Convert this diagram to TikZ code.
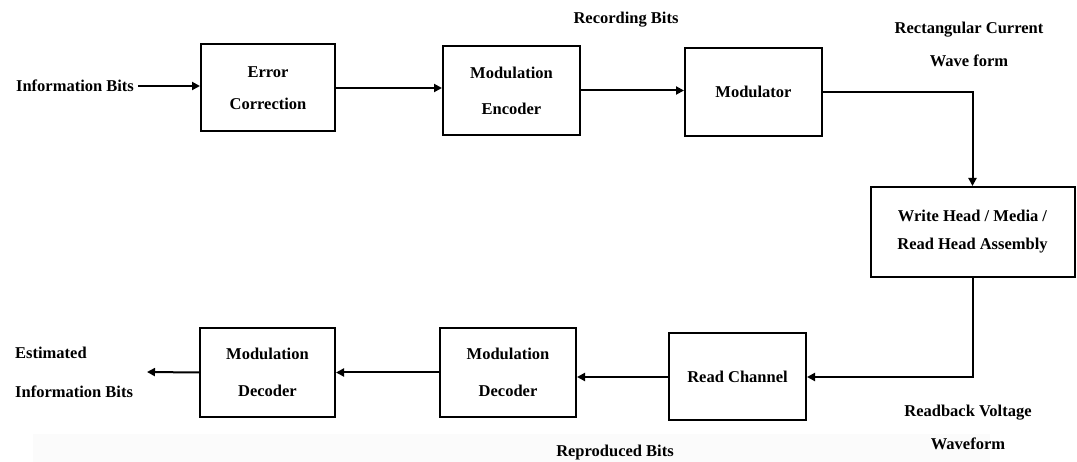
\documentclass[tikz,border=0pt]{standalone}
\usepackage{fontspec}
\setmainfont{Liberation Serif}
\usetikzlibrary{arrows.meta}
\begin{document}
\begin{tikzpicture}[x=1pt,y=-1pt,
  blk/.style={draw,line width=2pt,minimum width=#1,inner sep=0pt,align=center,
     font=\fontsize{16.5}{32}\selectfont\bfseries},
  lbl/.style={inner sep=2pt,align=center,font=\fontsize{16.5}{33}\selectfont\bfseries},
  arr/.style={line width=2pt,-{Triangle[length=8pt,width=8pt]}},
  ln/.style={line width=2pt}]
\useasboundingbox (0,0) rectangle (1077,462);
\fill[gray!3] (33,434) rectangle (990,462);
\node[blk=134pt,minimum height=87pt] (ec) at (268,88) {Error\\Correction};
\node[blk=137pt,minimum height=89pt] (me) at (511.5,90.5) {Modulation\\[4pt]Encoder};
\node[blk=137pt,minimum height=88pt] (mod) at (753.5,92) {Modulator};
\node[blk=204pt,minimum height=90pt,font=\fontsize{16.5}{28}\selectfont\bfseries] (wh) at (972.5,232) {Write Head / Media /\\Read Head Assembly};
\node[blk=137pt,minimum height=87pt] (rc) at (737.5,377) {Read Channel};
\node[blk=136pt,minimum height=89pt] (md2) at (508,372.5) {Modulation\\[5pt]Decoder};
\node[blk=135pt,minimum height=89pt] (md1) at (267.5,372.5) {Modulation\\[5pt]Decoder};
\node[lbl,inner xsep=4pt] (ib) at (75,86) {Information Bits};
\node[lbl] (rb) at (626,20) {Recording Bits};
\node[lbl] (rcw) at (969,44) {Rectangular Current\\Wave form};
\node[lbl] (rvw) at (968,427) {Readback Voltage\\Waveform};
\node[lbl] (rpb) at (615,453) {Reproduced Bits};
\node[lbl,align=left,anchor=west,font=\fontsize{16.5}{39}\selectfont\bfseries] (eib) at (13,372) {Estimated\\Information Bits};
\coordinate (out) at (147,372);
\draw[arr] (ib.east) -- (ib.east -| ec.west);
\draw[arr] (ec.east) -- (ec.east -| me.west);
\draw[arr] (me.east) -- (me.east -| mod.west);
\draw[arr] (mod.east) -| (wh.north);
\draw[arr] (wh.south) |- (rc.east);
\draw[arr] (rc.west) -- (rc.west -| md2.east);
\draw[arr] (md2.west) -- (md2.west -| md1.east);
\draw[arr] (md1.west) -- (out);
\end{tikzpicture}
\end{document}
